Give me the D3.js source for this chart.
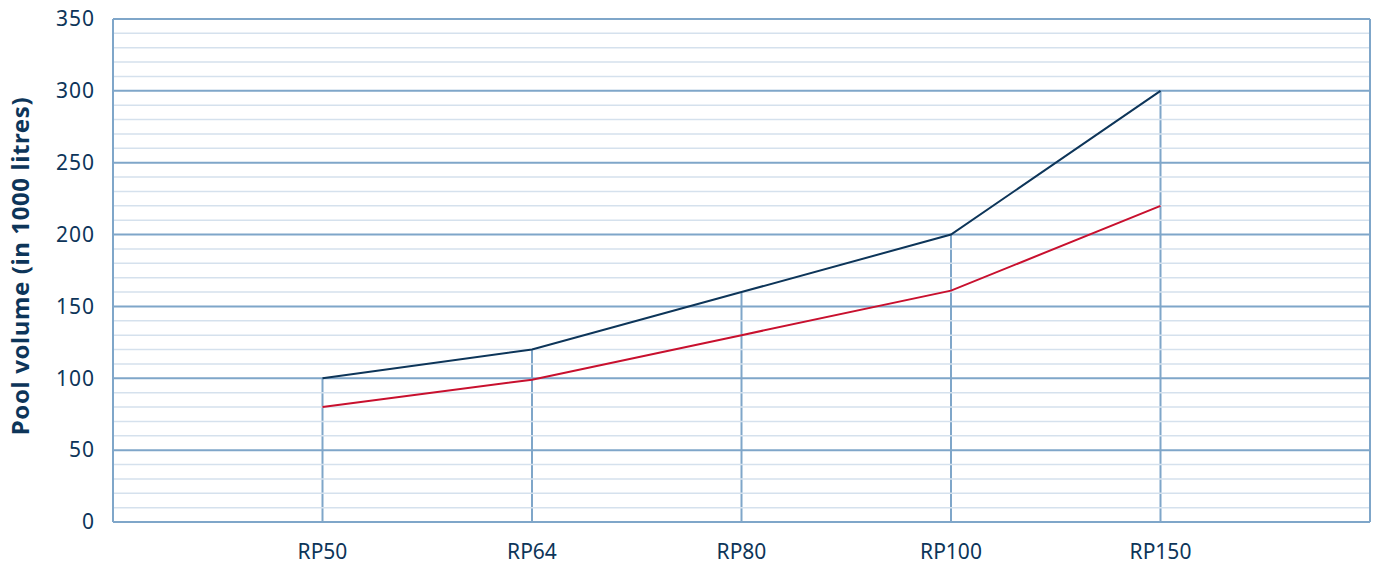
<!DOCTYPE html>
<html>
<head>
<meta charset="utf-8">
<script src="https://cdn.jsdelivr.net/npm/d3@7"></script>
<style>
  body { margin: 0; background: #fff; }
  svg { display: block; font-family: "Noto Sans", "Open Sans", sans-serif; }
</style>
</head>
<body>
<svg id="chart"></svg>
<script>
const categories = ["RP50", "RP64", "RP80", "RP100", "RP150"];
const seriesNavy = [100, 120, 160, 200, 300];
const seriesRed = [80, 99, 130, 161, 220];
const yTicks = [0, 50, 100, 150, 200, 250, 300, 350];

const width = 1380, height = 565;
const margin = { top: 19, right: 10, bottom: 43, left: 113 };
const textColor = "#0d3559";
const majorColor = "#7fa6c9";
const minorColor = "#d5e1ed";

const svg = d3.select("#chart").attr("width", width).attr("height", height);

// categories sit at positions 1..5 of a 0..6 range, edges left empty
const x = d3.scaleLinear()
  .domain([0, categories.length + 1])
  .range([margin.left, width - margin.right]);
const y = d3.scaleLinear()
  .domain([0, 350])
  .range([height - margin.bottom, margin.top]);

const g = svg.append("g");

// drop lines from the top series down to the axis
g.selectAll("line.drop")
  .data(categories)
  .enter().append("line")
  .attr("x1", (d, i) => x(i + 1)).attr("x2", (d, i) => x(i + 1))
  .attr("y1", (d, i) => y(Math.max(seriesNavy[i], seriesRed[i])))
  .attr("y2", y(0))
  .attr("stroke", majorColor).attr("stroke-width", 2);

// minor grid every 10
const minor = d3.range(10, 350, 10).filter(v => v % 50 !== 0);
g.selectAll("line.minor")
  .data(minor)
  .enter().append("line")
  .attr("x1", x(0)).attr("x2", x(categories.length + 1))
  .attr("y1", d => y(d)).attr("y2", d => y(d))
  .attr("stroke", minorColor).attr("stroke-width", 1.5);

// major grid
g.selectAll("line.major")
  .data(yTicks)
  .enter().append("line")
  .attr("x1", x(0)).attr("x2", x(categories.length + 1))
  .attr("y1", d => y(d)).attr("y2", d => y(d))
  .attr("stroke", majorColor).attr("stroke-width", 2);

// frame sides
[x(0), x(categories.length + 1)].forEach(px => {
  g.append("line")
    .attr("x1", px).attr("x2", px)
    .attr("y1", y(350)).attr("y2", y(0))
    .attr("stroke", majorColor).attr("stroke-width", 2);
});

const line = d3.line()
  .x((d, i) => x(i + 1))
  .y(d => y(d));

g.append("path").datum(seriesNavy)
  .attr("d", line).attr("fill", "none")
  .attr("stroke", "#0d3559").attr("stroke-width", 2);
g.append("path").datum(seriesRed)
  .attr("d", line).attr("fill", "none")
  .attr("stroke", "#c8102e").attr("stroke-width", 2);

// y tick labels
svg.selectAll("text.ytick")
  .data(yTicks)
  .enter().append("text")
  .attr("x", 95).attr("y", d => y(d))
  .attr("dy", "0.35em")
  .attr("text-anchor", "end")
  .attr("fill", textColor)
  .style("font-size", "21px")
  .style("letter-spacing", "1px")
  .text(d => d);

// x tick labels
svg.selectAll("text.xtick")
  .data(categories)
  .enter().append("text")
  .attr("x", (d, i) => x(i + 1)).attr("y", 552)
  .attr("dy", "0.35em")
  .attr("text-anchor", "middle")
  .attr("fill", textColor)
  .style("font-size", "21px")
  .text(d => d);

// y title
svg.append("text")
  .attr("transform", "translate(21,266) rotate(-90)")
  .attr("text-anchor", "middle")
  .attr("dy", "0.35em")
  .attr("fill", textColor)
  .style("font-size", "24px")
  .style("letter-spacing", "0.6px")
  .style("font-weight", "bold")
  .text("Pool volume (in 1000 litres)");
</script>
</body>
</html>
